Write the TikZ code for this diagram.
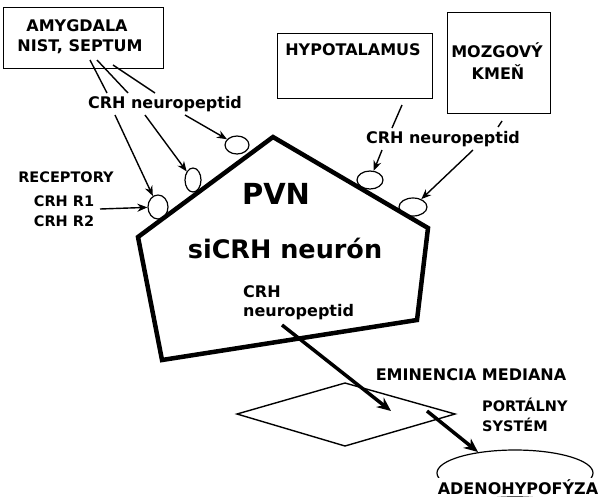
\documentclass[tikz,border=0pt]{standalone}
\usepackage{fontspec}
\setmainfont{DejaVu Sans}
\usetikzlibrary{arrows.meta,shapes.geometric}
\tikzset{
  lbl/.style={font=\bfseries\fontsize{16}{18}\selectfont, inner sep=0pt},
  sml/.style={font=\bfseries\fontsize{14.5}{16}\selectfont, inner sep=0pt},
  boxn/.style={draw, line width=1pt},
  rec/.style={draw, ellipse, line width=1.2pt, inner sep=0pt},
  thin/.style={line width=1.4pt},
  arr/.style={line width=1.4pt, -{Stealth[length=10pt,width=8pt]}},
  thickarr/.style={line width=3.5pt, -{Stealth[length=14pt,width=12pt]}},
  wall/.style={line width=4.5pt, line join=miter}
}
\begin{document}
\begin{tikzpicture}[x=1pt,y=-1pt]
\useasboundingbox (0,0) rectangle (601,499);
% boxes
\node[boxn, minimum width=160, minimum height=61] (amy) at (83,37.5) {};
\node[lbl] at (77,26) {AMYGDALA};
\node[lbl] at (80,47) {NIST, SEPTUM};
\node[boxn, minimum width=155, minimum height=65] (hyp) at (354.5,65.5) {};
\node[lbl] at (353,50) {HYPOTALAMUS};
\node[boxn, minimum width=103, minimum height=101] (moz) at (498.5,62.5) {};
\node[lbl] at (497,50) {MOZGOVÝ};
\node[lbl] at (498,72) {KMEŇ};
% pentagon
\coordinate (pa) at (273,137);
\coordinate (pr) at (428,228);
\coordinate (pbr) at (417,320);
\coordinate (pbl) at (162,360);
\coordinate (pl) at (138,237);
\draw[wall] (pa) -- (pr) -- (pbr) -- (pbl) -- (pl) -- cycle;
\node[font=\bfseries\fontsize{29}{32}\selectfont, inner sep=0pt] at (276,194) {PVN};
\node[font=\bfseries\fontsize{25.5}{28}\selectfont, inner sep=0pt] at (285,248) {siCRH neurón};
% receptors
\node[rec, minimum width=20, minimum height=24] (r1) at (158,207) {};
\node[rec, minimum width=16, minimum height=24] (r2) at (193,180) {};
\node[rec, minimum width=24, minimum height=18] (r3) at (237,145) {};
\node[rec, minimum width=26, minimum height=18] (r4) at (370,180) {};
\node[rec, minimum width=28, minimum height=18] (r5) at (413,207) {};
% labels
\node[lbl] (crhl) at (165,104) {CRH neuropeptid};
\node[lbl] (crhr) at (443,139) {CRH neuropeptid};
\node[sml] at (66,177) {RECEPTORY};
\node[sml] at (64,201) {CRH R1};
\node[sml] at (64,221) {CRH R2};
% left lines
\coordinate (a1) at (90,60); \coordinate (b1) at (107,93); \coordinate (c1) at (115,115);
\coordinate (a2) at (97,60); \coordinate (b2) at (128,93); \coordinate (c2) at (145,115);
\coordinate (a3) at (113,65); \coordinate (b3) at (155,93); \coordinate (c3) at (185,115);
\draw[thin] (a1) -- (b1);
\draw[thin] (a2) -- (b2);
\draw[thin] (a3) -- (b3);
\draw[arr] (c1) -- (r1);
\draw[arr] (c2) -- (r2);
\draw[arr] (c3) -- (r3);
\coordinate (rx) at (100,209);
\draw[arr] (rx) -- (r1);
% right lines
\coordinate (h1) at (402,105); \coordinate (h2) at (392,128); \coordinate (h3) at (382,150);
\draw[thin] (h1) -- (h2);
\draw[arr] (h3) -- (r4);
\coordinate (m1) at (502,121); \coordinate (m2) at (498,127); \coordinate (m3) at (473,150);
\draw[thin] (m1) -- (m2);
\draw[arr] (m3) -- (r5);
% inner text and arrow
\node[lbl, anchor=west] at (243,292) {CRH};
\node[lbl, anchor=west] at (243,312) {neuropeptid};
\coordinate (t1) at (282,325);
% eminencia
\coordinate (dl) at (237,414); \coordinate (dt) at (345,383);
\coordinate (dr) at (455,414); \coordinate (db) at (345,446);
\draw[line width=1.4pt] (dl) -- (dt) -- (dr) -- (db) -- cycle;
\coordinate (t2) at (391,411);
\draw[thickarr] (t1) -- (t2);
\node[lbl] at (471,375) {EMINENCIA MEDIANA};
\node[sml, anchor=west] at (482,405) {PORTÁLNY};
\node[sml, anchor=west] at (482,425) {SYSTÉM};
% adenohypofyza
\node[draw, ellipse, line width=1.2pt, minimum width=156, minimum height=46] (ad) at (515,473) {};
\coordinate (s1) at (427,411);
\coordinate (s2) at (478,452);
\draw[thickarr] (s1) -- (s2);
\node[lbl, fill=white, inner sep=1pt] at (518,487) {ADENOHYPOFÝZA};
\end{tikzpicture}
\end{document}
